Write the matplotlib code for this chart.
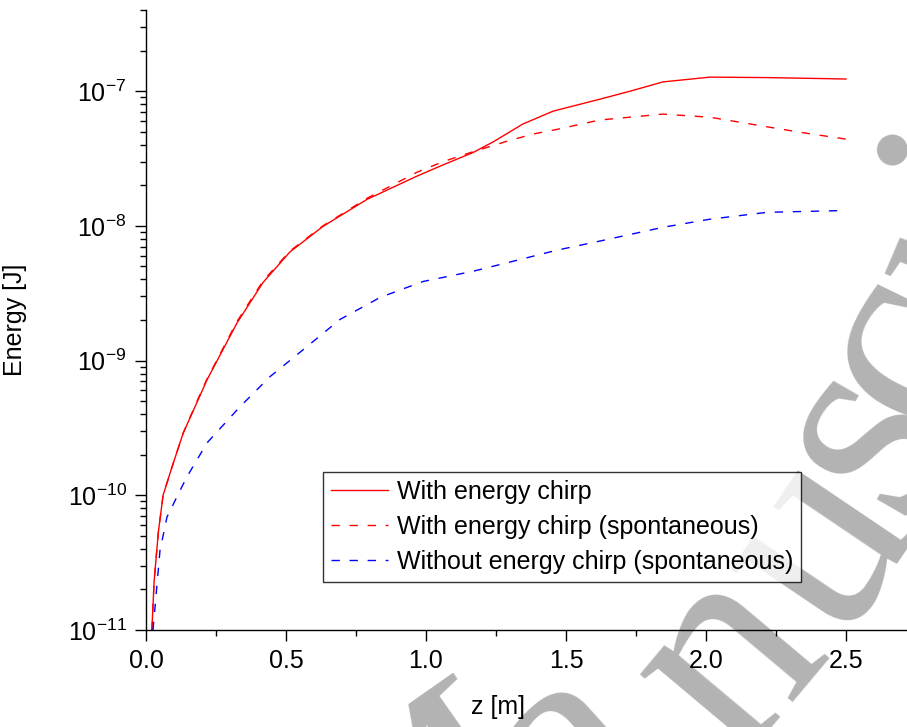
import numpy as np
import matplotlib
matplotlib.use('Agg')
import matplotlib.pyplot as plt
from matplotlib.ticker import LogLocator, LogFormatterMathtext, MultipleLocator

plt.rcParams['font.family'] = ['Liberation Sans', 'DejaVu Sans']
plt.rcParams['mathtext.fontset'] = 'custom'
plt.rcParams['mathtext.rm'] = 'Liberation Sans'
plt.rcParams['mathtext.default'] = 'regular'
plt.rcParams['axes.unicode_minus'] = False

# with energy chirp
z_chirp = [0.021, 0.029, 0.044, 0.061, 0.092, 0.133, 0.186, 0.218, 0.325, 0.418,
           0.514, 0.632, 0.789, 0.968, 1.062, 1.168, 1.24, 1.346, 1.454, 1.62,
           1.73, 1.846, 2.014, 2.218, 2.50]
e_chirp = [1.0e-11, 2.3e-11, 5.3e-11, 1.0e-10, 1.6e-10, 2.9e-10, 5.1e-10, 7.2e-10, 1.9e-9, 3.8e-9,
           6.4e-9, 9.9e-9, 1.57e-8, 2.34e-8, 2.84e-8, 3.5e-8, 4.2e-8, 5.7e-8, 7.1e-8, 8.7e-8,
           1.0e-7, 1.17e-7, 1.27e-7, 1.26e-7, 1.23e-7]

# with energy chirp, spontaneous
z_chirp_sp = [0.021, 0.029, 0.044, 0.061, 0.092, 0.133, 0.186, 0.218, 0.325, 0.418,
              0.514, 0.632, 0.789, 0.968, 1.062, 1.168, 1.29, 1.382, 1.468, 1.62,
              1.846, 2.014, 2.18, 2.336, 2.50]
e_chirp_sp = [1.0e-11, 2.3e-11, 5.3e-11, 1.0e-10, 1.6e-10, 2.9e-10, 5.2e-10, 7.3e-10, 1.95e-9, 3.9e-9,
              6.5e-9, 1.0e-8, 1.6e-8, 2.5e-8, 3.0e-8, 3.55e-8, 4.25e-8, 4.8e-8, 5.2e-8, 6.1e-8,
              6.75e-8, 6.4e-8, 5.6e-8, 4.95e-8, 4.4e-8]

# without energy chirp, spontaneous
z_nochirp_sp = [0.025, 0.05, 0.075, 0.11, 0.146, 0.218, 0.336, 0.443, 0.575, 0.693,
                0.836, 0.989, 1.168, 1.31, 1.468, 1.62, 1.846, 2.014, 2.218, 2.50]
e_nochirp_sp = [1.0e-11, 3.9e-11, 6.9e-11, 9.7e-11, 1.37e-10, 2.45e-10, 4.55e-10, 7.6e-10, 1.27e-9, 2.02e-9,
                2.94e-9, 3.86e-9, 4.6e-9, 5.45e-9, 6.6e-9, 7.7e-9, 9.75e-9, 1.12e-8, 1.26e-8, 1.3e-8]

labels = ['With energy chirp',
          'With energy chirp (spontaneous)',
          'Without energy chirp (spontaneous)']

# watermark letters: char, x px, y px, rotation
wm_chars = ['M', 'a', 'n', 'u', 's', 'c', 'r', 'i']
wm_x = [405, 552, 705, 795, 838, 878, 928, 962]
wm_y = [812, 728, 640, 528, 418, 335, 242, 168]
wm_rot = [35, 42, 50, 56, 60, 64, 67, 70]

W, H = 907, 727
fig = plt.figure(figsize=(9.07, 7.27), dpi=100)
ax = fig.add_axes([146/W, 1 - 630/H, 1 - 146/W, (630 - 10)/H])
ax.set_facecolor('none')

for ch, x, y, r in zip(wm_chars, wm_x, wm_y, wm_rot):
    fig.text(x / W, 1 - y / H, ch, rotation=r, rotation_mode='anchor',
             ha='center', va='center_baseline', fontsize=210,
             family='Liberation Serif', color='#b3b3b3', zorder=-1)

dash = (0, (6, 7))
ax.plot(z_chirp, e_chirp, color='red', lw=1.0, label=labels[0])
ax.plot(z_chirp_sp, e_chirp_sp, color='red', lw=1.0, ls=dash, label=labels[1])
ax.plot(z_nochirp_sp, e_nochirp_sp, color='blue', lw=1.0, ls=dash, label=labels[2])

ax.set_yscale('log')
ax.set_ylim(1e-11, 4e-7)
ax.set_xlim(0, (W - 146) / 280)

ax.xaxis.set_major_locator(MultipleLocator(0.5))
ax.xaxis.set_minor_locator(MultipleLocator(0.25))
ax.xaxis.set_major_formatter(plt.FuncFormatter(lambda v, p: '%.1f' % v))
ax.yaxis.set_major_locator(LogLocator(base=10, numticks=10))
ax.yaxis.set_minor_locator(LogLocator(base=10, subs=np.arange(2, 10), numticks=20))
ax.yaxis.set_major_formatter(LogFormatterMathtext())

ax.spines['top'].set_visible(False)
ax.spines['right'].set_visible(False)
for s in ['left', 'bottom']:
    ax.spines[s].set_linewidth(1.0)

ax.tick_params(which='major', direction='out', length=8, width=1.0, labelsize=18, pad=6)
ax.tick_params(which='minor', direction='out', length=4.5, width=1.0)

ax.set_xlabel('z [m]', fontsize=18)
ax.set_ylabel('Energy [J]', fontsize=18)
ax.xaxis.set_label_coords((498 - 146) / (W - 146), -0.105)
ax.yaxis.set_label_coords(-(146 - 27) / (W - 146), 0.5)

leg = ax.legend(loc='upper left', bbox_to_anchor=(323/W, 1 - 472/H),
                bbox_transform=fig.transFigure, fontsize=18, frameon=True,
                fancybox=False, shadow=False, borderaxespad=0, handlelength=2.3,
                handletextpad=0.35, labelspacing=0.45, borderpad=0.3)
leg.get_frame().set_edgecolor('black')
leg.get_frame().set_linewidth(1.0)

plt.savefig('out.png', dpi=100)
